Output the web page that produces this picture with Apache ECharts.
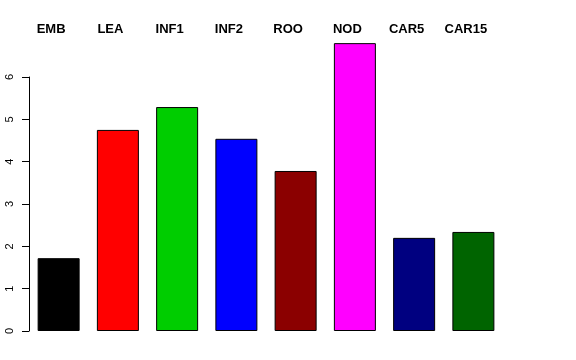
<!DOCTYPE html>
<html><head><meta charset="utf-8">
<script src="https://cdn.jsdelivr.net/npm/echarts@6/dist/echarts.min.js"></script>
<style>html,body{margin:0;padding:0;background:#fff}#c{width:576px;height:360px}</style>
</head><body><div id="c"></div>
<script>
var categories = ["EMB","LEA","INF1","INF2","ROO","NOD","CAR5","CAR15"];
var values = [1.72, 4.75, 5.29, 4.54, 3.78, 6.80, 2.20, 2.34];
var colors = ["#000000","#FF0000","#00CD00","#0000FF","#8B0000","#FF00FF","#000080","#006400"];
var yTicks = [0,1,2,3,4,5,6];

var chart = echarts.init(document.getElementById('c'), null, {renderer:'canvas'});
chart.setOption({
  animation:false,
  backgroundColor:'#fff',
  grid:{left:29, top:77, width:474, height:254},
  xAxis:{type:'category', data:categories, position:'top',
    axisLine:{show:false}, axisTick:{show:false},
    axisLabel:{margin:41, fontFamily:'Liberation Sans', fontWeight:'bold', fontSize:13, color:'#000', padding:[0,15,0,0]}},
  yAxis:{type:'value', min:yTicks[0], max:yTicks[yTicks.length-1], interval:1,
    splitLine:{show:false},
    axisLine:{show:true, lineStyle:{color:'#000', width:1}},
    axisTick:{show:true, length:7, lineStyle:{color:'#000'}},
    axisLabel:{rotate:90, margin:14, fontFamily:'Liberation Sans', fontSize:11, color:'#000'}},
  series:[{type:'bar', clip:false, barWidth:42,
    data: values.map(function(v,i){return {value:v, itemStyle:{color:colors[i]}};}),
    itemStyle:{borderColor:'#000', borderWidth:1}}]
});
</script></body></html>
